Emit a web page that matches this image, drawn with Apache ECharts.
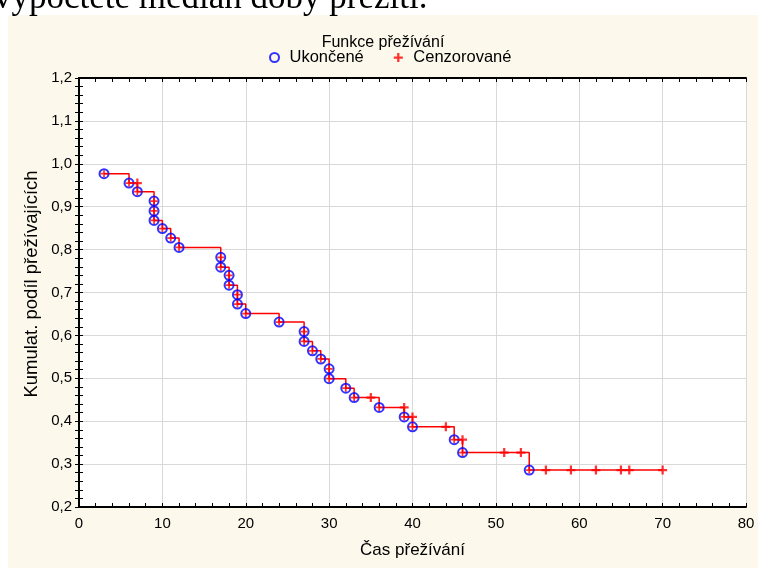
<!DOCTYPE html>
<html><head><meta charset="utf-8">
<script src="https://cdn.jsdelivr.net/npm/echarts@6/dist/echarts.min.js"></script>
<style>html,body{margin:0;padding:0;background:#fff}#c{width:758px;height:568px}</style>
</head><body><div id="c"></div>
<script>
// Completed (Ukončené) observations
const eventTimes = [3,6,7,9,9,9,10,11,12,17,17,18,18,19,19,20,24,27,27,28,29,30,30,32,33,36,39,40,45,46,54];
const eventSurv  = [0.977,0.955,0.935,0.913,0.890,0.868,0.849,0.827,0.805,0.782,0.759,0.740,0.717,0.695,0.673,0.651,0.631,0.609,0.586,0.564,0.545,0.522,0.499,0.477,0.455,0.432,0.410,0.387,0.357,0.327,0.286];
// Censored (Cenzorované) observations
const censTimes = [7,35,39,40,44,46,51,53,56,59,62,65,66,70];
const censSurv  = [0.955,0.455,0.432,0.410,0.387,0.357,0.327,0.327,0.286,0.286,0.286,0.286,0.286,0.286];
const xTicks = [0,10,20,30,40,50,60,70,80];
const yTicks = [0.2,0.3,0.4,0.5,0.6,0.7,0.8,0.9,1.0,1.1,1.2];

const eventPts = eventTimes.map((t,i)=>[t,eventSurv[i]]);
const censPts = censTimes.map((t,i)=>[t,censSurv[i]]);
// step line: merge, censored before event at ties
const stepPts = eventPts.map(p=>[p[0],p[1],1]).concat(censPts.map(p=>[p[0],p[1],0]))
  .sort((a,b)=>a[0]-b[0] || a[2]-b[2] || b[1]-a[1]).map(p=>[p[0],p[1]]);

const PLUS = 'path://M3,0H5V3H8V5H5V8H3V5H0V3H3Z';
const FONT = 'Liberation Sans';
const fmtY = v => Number(v).toFixed(1).replace('.',',');

const chart = echarts.init(document.getElementById('c'), null, {renderer:'canvas'});
const axisCommon = {
  type:'value', axisLine:{show:true,lineStyle:{color:'#000',width:2}},
  axisTick:{show:true,inside:true,length:4,lineStyle:{color:'#000'}},
  minorTick:{show:true,splitNumber:5,length:4,lineStyle:{color:'#000'}},
};
chart.setOption({
  animation:false,
  backgroundColor:'#ffffff',
  textStyle:{fontFamily:FONT},
  graphic:[
    {type:'rect',z:-10,shape:{x:8,y:15,width:760,height:570},style:{fill:'#fdf8ec'}},
    {type:'text',left:-6,top:-19,style:{text:'vypočtete medián doby přežití.',font:'35px "Liberation Serif"',fill:'#000'}},
    {type:'text',x:383,y:43,style:{text:'Funkce přežívání',font:'16px "Liberation Sans"',fill:'#000',align:'center',verticalAlign:'middle'}},
    {type:'text',x:32,y:284,rotation:Math.PI/2,style:{text:'Kumulat. podíl přežívajících',font:'18.5px "Liberation Sans"',fill:'#000',align:'center',verticalAlign:'middle'}}
  ],
  legend:{
    top:44, left:264, itemGap:30, itemWidth:20, itemHeight:9,
    textStyle:{fontFamily:FONT,fontSize:16.5,color:'#000'},
    data:[{name:'Ukončené'},{name:'Cenzorované',icon:PLUS}]
  },
  grid:{left:79,top:78,width:667,height:429,show:true,backgroundColor:'#ffffff',borderWidth:0},
  xAxis:[
    Object.assign({},axisCommon,{min:0,max:80,interval:10,position:'bottom',
      axisLabel:{color:'#000',fontSize:15,fontFamily:FONT,margin:9},
      splitLine:{show:true,lineStyle:{color:'#d9d9d9',width:1}},
      name:'Čas přežívání',nameLocation:'middle',nameGap:35,
      nameTextStyle:{color:'#000',fontSize:17,fontFamily:FONT}}),
    Object.assign({},axisCommon,{min:0,max:80,interval:10,position:'top',
      axisLabel:{show:false},splitLine:{show:false}})
  ],
  yAxis:[
    Object.assign({},axisCommon,{min:0.2,max:1.2,interval:0.1,position:'left',
      axisLabel:{color:'#000',fontSize:15,fontFamily:FONT,margin:7,formatter:fmtY},
      splitLine:{show:true,lineStyle:{color:'#d9d9d9',width:1}}}),
    Object.assign({},axisCommon,{min:0.2,max:1.2,interval:0.1,position:'right',
      axisLabel:{show:false},splitLine:{show:false}})
  ],
  series:[
    {type:'line',name:'step',data:stepPts,step:'end',symbol:'none',
      lineStyle:{color:'#ff0000',width:1.5},z:2,silent:true},
    {type:'scatter',name:'Ukončené',data:eventPts,symbol:'circle',symbolSize:9,
      itemStyle:{color:'rgba(0,0,0,0)',borderColor:'#0000ff',borderWidth:2},z:3},
    {type:'scatter',name:'Ukončené-plus',data:eventPts,symbol:PLUS,symbolSize:7,
      itemStyle:{color:'#ff0000'},z:4},
    {type:'scatter',name:'Cenzorované',data:censPts,symbol:PLUS,symbolSize:9,
      itemStyle:{color:'#ff0000'},z:4}
  ]
});
</script></body></html>
